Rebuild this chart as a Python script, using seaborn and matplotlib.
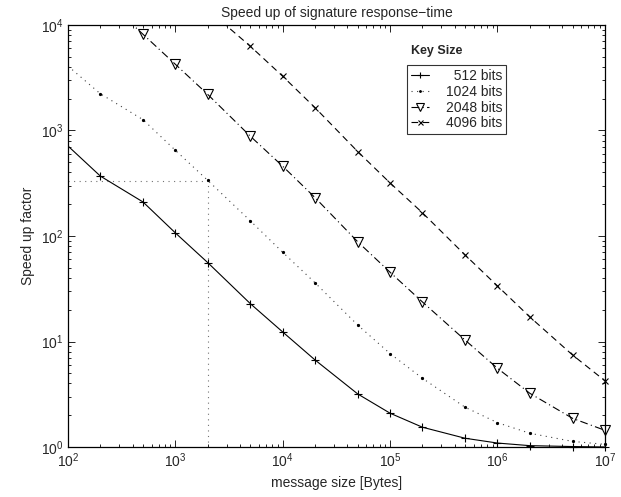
import numpy as np
import seaborn as sns
import matplotlib.pyplot as plt
from matplotlib.lines import Line2D
from matplotlib.ticker import LogLocator, NullFormatter

# message sizes in bytes
msg_size = [1e2, 2e2, 5e2, 1e3, 2e3, 5e3, 1e4, 2e4, 5e4, 1e5, 2e5, 5e5, 1e6, 2e6, 5e6, 1e7]

# speed up factor for each key size (values above 1e4 are off the chart)
speedup_512 = [713, 370, 210, 107, 56, 22.8, 12.3, 6.68, 3.18, 2.09, 1.54, 1.21, 1.09, 1.03, 1.01, 1.0]
speedup_1024 = [4080, 2230, 1266, 649, 337, 139, 70, 36, 14.3, 7.67, 4.48, 2.38, 1.70, 1.35, 1.13, 1.06]
speedup_2048 = [38000, 19400, 8160, 4240, 2200, 881, 458, 231, 88, 45.3, 23.7, 10.3, 5.57, 3.23, 1.87, 1.44]
speedup_4096 = [290000, 150000, 60000, 29000, 14000, 6280, 3264, 1645, 630, 318, 166, 66, 33.6, 17.1, 7.45, 4.25]

key_labels = ['  512 bits', '1024 bits', '2048 bits', '4096 bits']

# dotted helper lines for the 2 kB example
ref_x = [1e2, 2e3, 2e3]
ref_y = [330, 330, 1]

sns.set_style('ticks')
plt.rcParams['font.family'] = ['Liberation Sans', 'DejaVu Sans']
plt.rcParams['font.size'] = 10

fig, ax = plt.subplots(figsize=(6.21, 4.97), dpi=100)
fig.subplots_adjust(left=0.1095, right=0.974, bottom=0.1006, top=0.9497)
ax.set_xscale('log')
ax.set_yscale('log')

dots = (0, (1, 4))
dashes = (0, (6, 4))
dashdot = (0, (7, 3, 1, 3))
series = [
    (speedup_512, '-', '+', 6, 'black', 'black'),
    (speedup_1024, dots, '.', 3, 'black', '0.25'),
    (speedup_2048, dashdot, 'v', 6.5, 'none', 'black'),
    (speedup_4096, dashes, 'x', 4.5, 'black', 'black'),
]

sns.lineplot(x=ref_x, y=ref_y, ax=ax, color='0.45', linestyle=dots, linewidth=0.8,
             estimator=None, sort=False)

handles = []
xs = np.array(msg_size)
for (vals, ls, mk, ms, fc, lc), lab in zip(series, key_labels):
    vs = np.array(vals)
    sns.lineplot(x=xs, y=vs, ax=ax, color=lc, linestyle=ls, linewidth=0.8,
                 estimator=None, sort=False)
    # markers, not clipped at the axes edge (only the ones inside the range)
    m = (xs > 1e2) & (vs <= 1e4)
    sns.lineplot(x=xs[m], y=vs[m], ax=ax, color='black', linestyle='none', marker=mk,
                 markersize=ms, markeredgewidth=0.8, markerfacecolor=fc,
                 markeredgecolor='black', clip_on=False, estimator=None, sort=False)
    handles.append(Line2D([], [], color=lc, linestyle=ls, linewidth=0.8, marker=mk,
                          markersize=ms * 0.8, markeredgewidth=0.8, markerfacecolor=fc,
                          markeredgecolor='black'))

ax.set_xlim(1e2, 1e7)
ax.set_ylim(1, 1e4)
ax.xaxis.set_major_locator(LogLocator(base=10, numticks=10))
ax.yaxis.set_major_locator(LogLocator(base=10, numticks=10))
ax.xaxis.set_minor_locator(LogLocator(base=10, subs=np.arange(2, 10), numticks=20))
ax.yaxis.set_minor_locator(LogLocator(base=10, subs=np.arange(2, 10), numticks=20))
ax.xaxis.set_minor_formatter(NullFormatter())
ax.yaxis.set_minor_formatter(NullFormatter())
ax.tick_params(which='both', direction='in', top=True, right=True, color='black',
               labelsize=10, width=0.6)
ax.tick_params(which='major', length=5)
ax.tick_params(which='minor', length=2.5)
for sp in ax.spines.values():
    sp.set_color('black')
    sp.set_linewidth(0.9)

ax.set_title('Speed up of signature response\u2212time', fontsize=10, pad=6)
ax.set_xlabel('message size [Bytes]', fontsize=10)
ax.set_ylabel('Speed up factor', fontsize=10)

leg = ax.legend(handles, key_labels, loc='upper left', bbox_to_anchor=(0.631, 0.905),
                fontsize=10, frameon=True, fancybox=False, handlelength=1.3,
                handletextpad=1.2, labelspacing=0.12, borderpad=0.3, borderaxespad=0)
leg.get_frame().set_edgecolor('black')
leg.get_frame().set_linewidth(0.8)
ax.text(0.638, 0.925, 'Key Size', transform=ax.transAxes, fontsize=9, fontweight='bold',
        ha='left', va='bottom')

fig.savefig('out.png', dpi=100)
